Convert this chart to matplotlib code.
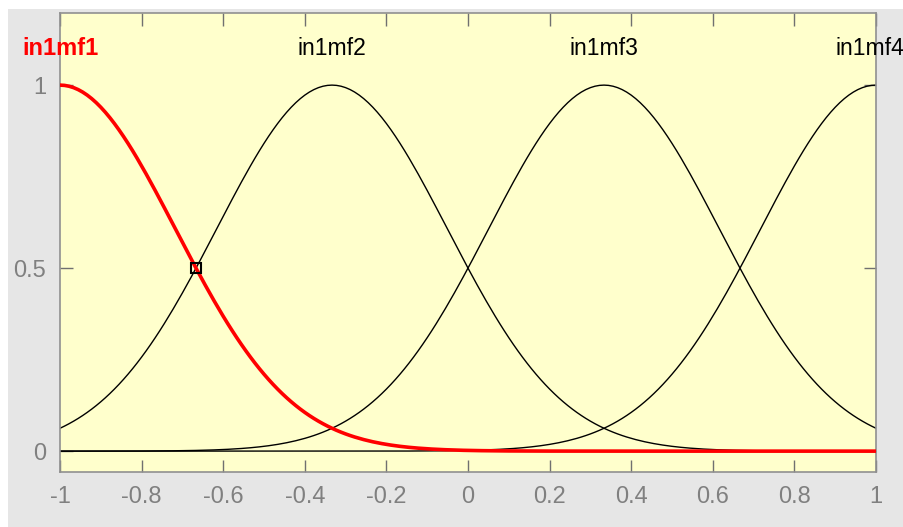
import numpy as np
import matplotlib
matplotlib.use("Agg")
import matplotlib.pyplot as plt
from matplotlib.patches import Rectangle

# Gaussian membership function parameters (MATLAB gaussmf: [sigma, center])
mf_names = ["in1mf1", "in1mf2", "in1mf3", "in1mf4"]
mf_centers = [-1.0, -0.3333, 0.3333, 1.0]
mf_sigmas = [0.2831, 0.2831, 0.2831, 0.2831]
highlight = 0  # index of the selected (red) MF
xticks = [-1, -0.8, -0.6, -0.4, -0.2, 0, 0.2, 0.4, 0.6, 0.8, 1]
xticklabels = ["-1", "-0.8", "-0.6", "-0.4", "-0.2", "0", "0.2", "0.4", "0.6", "0.8", "1"]
yticks = [0, 0.5, 1]
yticklabels = ["0", "0.5", "1"]
cursor_point = (-0.6667, 0.5)

fam = ["Liberation Sans Narrow", "Liberation Sans", "DejaVu Sans"]
plt.rcParams["font.family"] = fam

fig = plt.figure(figsize=(9.04, 5.27), dpi=100, facecolor="white")
fig.patches.append(Rectangle((8 / 904, 0), 1, (527 - 9) / 527, transform=fig.transFigure,
                             facecolor="#e6e6e6", edgecolor="none", zorder=-10))
ax = fig.add_axes([60 / 904, (527 - 472) / 527, (876 - 60) / 904, (472 - 13) / 527])
ax.set_facecolor("#ffffcc")

x = np.linspace(-1, 1, 181)
n = len(mf_centers)
for i, (c, s) in enumerate(zip(mf_centers, mf_sigmas)):
    y = np.exp(-((x - c) ** 2) / (2 * s ** 2))
    if i == highlight:
        ax.plot(x, y, color="red", lw=2.6, zorder=3)
    else:
        ax.plot(x, y, color="black", lw=1.0, zorder=2)
    dx = -6 if i == n - 1 else 0
    ax.annotate(mf_names[i], xy=(c, 1.1), xytext=(dx, 0), textcoords="offset pixels",
                ha="center", va="center",
                fontsize=17 if i == highlight else 16.5,
                color="red" if i == highlight else "black",
                fontweight="bold" if i == highlight else "normal",
                annotation_clip=False, zorder=5)

ax.plot([cursor_point[0]], [cursor_point[1]], marker="s", ms=7, mfc="none",
        mec="black", mew=1.5, zorder=6)

ax.set_xlim(-1, 1)
ax.set_ylim(-0.057, 1.197)
ax.set_xticks(xticks)
ax.set_xticklabels(xticklabels)
ax.set_yticks(yticks)
ax.set_yticklabels(yticklabels)
ax.tick_params(direction="in", length=9, width=1, color="#707070", labelcolor="#808080",
               labelsize=17, top=True, right=True, pad=10)
for sp in ax.spines.values():
    sp.set_color("#909090")
    sp.set_linewidth(1.2)

fig.savefig("out.png", dpi=100, facecolor=fig.get_facecolor())
